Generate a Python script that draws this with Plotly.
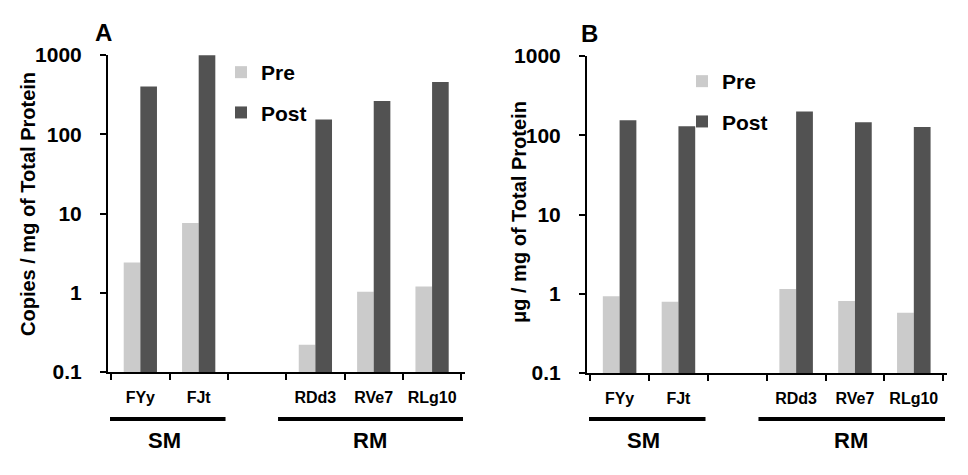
import plotly.graph_objects as go

# ---- data ----
categories = ["FYy", "FJt", " ", "RDd3", "RVe7", "RLg10"]
copies_pre = [2.4, 7.6, None, 0.22, 1.03, 1.2]
copies_post = [400, 990, None, 153, 263, 457]
ug_pre = [0.93, 0.79, None, 1.15, 0.81, 0.575]
ug_post = [155, 130, None, 200, 146, 127]
series_names = ["Pre", "Post"]
group_labels = ["SM", "RM"]
group_spans = [(-0.52, 1.46), (2.36, 5.53)]
group_centers = [0.41, 3.94]
y_ticks = [0.1, 1, 10, 100, 1000]
y_tick_labels = ["0.1", "1", "10", "100", "1000"]

# the page body has an 8px margin, so the figure is drawn 8px in from the corner
OFF = 8
W, H = 968 - OFF, 475 - OFF
FONT = "Liberation Sans, Arial, sans-serif"
PRE_C = "#cbcbcb"
POST_C = "#525252"


def px(x):
    return (x - OFF) / W


def py(y):
    return 1 - (y - OFF) / H


fig = go.Figure()

panels = [
    dict(xa="x", ya="y", legend="legend", pre=copies_pre, post=copies_post),
    dict(xa="x2", ya="y2", legend="legend2", pre=ug_pre, post=ug_post),
]
for p in panels:
    fig.add_trace(go.Bar(x=categories, y=p["pre"], name=series_names[0],
                         marker=dict(color=PRE_C, line=dict(width=0)),
                         xaxis=p["xa"], yaxis=p["ya"], legend=p["legend"],
                         legendgroup="pre" + p["legend"]))
    fig.add_trace(go.Bar(x=categories, y=p["post"], name=series_names[1],
                         marker=dict(color=POST_C, line=dict(width=0)),
                         xaxis=p["xa"], yaxis=p["ya"], legend=p["legend"],
                         legendgroup="post" + p["legend"]))

xcommon = dict(type="category", categoryorder="array", categoryarray=categories,
               showline=True, linecolor="black", linewidth=2,
               ticks="outside", tickson="boundaries", ticklen=6, tickwidth=2,
               tickcolor="black", showgrid=False, zeroline=False, tickangle=0,
               automargin=False,
               tickfont=dict(family=FONT, size=16, color="black", weight="bold"),
               ticklabelstandoff=10, fixedrange=True)
ycommon = dict(type="log", range=[-1, 3], tickvals=y_ticks, ticktext=y_tick_labels,
               showline=True, linecolor="black", linewidth=2,
               ticks="outside", ticklen=6, tickwidth=2, tickcolor="black",
               showgrid=False, zeroline=False, automargin=False,
               tickfont=dict(family=FONT, size=21, color="black", weight="bold"),
               ticklabelstandoff=14, fixedrange=True)

fig.update_layout(
    width=W, height=H, margin=dict(l=0, r=0, t=0, b=0, autoexpand=False),
    paper_bgcolor="white", plot_bgcolor="white",
    barmode="group", bargap=0.43, bargroupgap=0,
    xaxis=dict(xcommon, domain=[px(108), px(465)], anchor="y"),
    yaxis=dict(ycommon, domain=[py(372), py(55)], anchor="x"),
    xaxis2=dict(xcommon, domain=[px(587), px(947)], anchor="y2"),
    yaxis2=dict(ycommon, domain=[py(373), py(56)], anchor="x2"),
    legend=dict(x=px(221), y=py(52), xanchor="left", yanchor="top",
                font=dict(family=FONT, size=21, color="black", weight="bold"),
                traceorder="grouped", tracegroupgap=10, bgcolor="rgba(0,0,0,0)"),
    legend2=dict(x=px(682), y=py(61), xanchor="left", yanchor="top",
                 font=dict(family=FONT, size=21, color="black", weight="bold"),
                 traceorder="grouped", tracegroupgap=10, bgcolor="rgba(0,0,0,0)"),
    showlegend=True,
)

annotations = []
shapes = []
for xa in ["x", "x2"]:
    for (x0, x1), lab, c in zip(group_spans, group_labels, group_centers):
        shapes.append(dict(type="line", xref=xa, yref="paper", x0=x0, x1=x1,
                           y0=py(419), y1=py(419), line=dict(color="black", width=4)))
        annotations.append(dict(text=lab, xref=xa, yref="paper", x=c, y=py(440),
                                showarrow=False, xanchor="center", yanchor="middle",
                                font=dict(family=FONT, size=22, color="black", weight="bold")))

# panel letters
annotations.append(dict(text="A", xref="paper", yref="paper", x=px(103), y=py(33),
                        xanchor="center", yanchor="middle",
                        showarrow=False, font=dict(family=FONT, size=24, color="black", weight="bold")))
annotations.append(dict(text="B", xref="paper", yref="paper", x=px(589), y=py(34),
                        xanchor="center", yanchor="middle",
                        showarrow=False, font=dict(family=FONT, size=24, color="black", weight="bold")))
# axis titles
annotations.append(dict(text="Copies / mg of Total Protein", xref="paper", yref="paper",
                        x=px(28), y=py(204), textangle=-90, showarrow=False,
                        xanchor="center", yanchor="middle",
                        font=dict(family=FONT, size=20, color="black", weight="bold")))
annotations.append(dict(text="μg / mg of Total Protein", xref="paper", yref="paper",
                        x=px(519), y=py(212), textangle=-90, showarrow=False,
                        xanchor="center", yanchor="middle",
                        font=dict(family=FONT, size=20, color="black", weight="bold")))

fig.update_layout(annotations=annotations, shapes=shapes)

fig.write_html("out.html")
